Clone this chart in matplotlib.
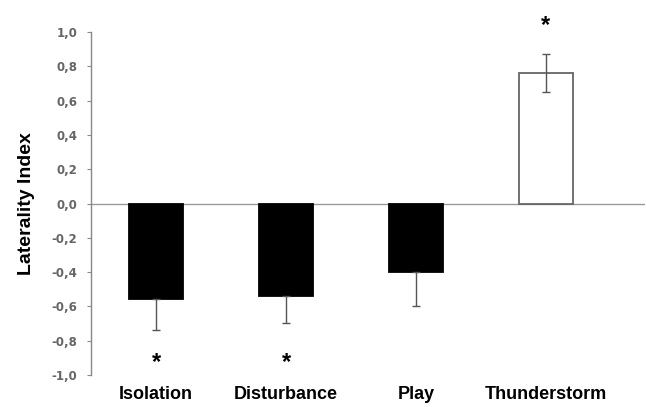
import matplotlib
matplotlib.use("Agg")
import matplotlib.pyplot as plt
import numpy as np

plt.rcParams['font.family'] = ['Liberation Sans', 'DejaVu Sans']

conditions = ["Isolation", "Disturbance", "Play", "Thunderstorm"]
laterality = [-0.56, -0.54, -0.40, 0.76]
err_low = [0.18, 0.16, 0.20, 0.11]
err_high = [0.0, 0.0, 0.0, 0.11]
significant = [True, True, False, True]
yticks = [-1.0, -0.8, -0.6, -0.4, -0.2, 0.0, 0.2, 0.4, 0.6, 0.8, 1.0]

fig = plt.figure(figsize=(6.46, 4.07), dpi=100)
ax = fig.add_axes([0.141, 0.079, 0.857, 0.842])

x = np.arange(len(conditions))
faces = ["black" if v < 0 else "white" for v in laterality]
edges = ["black" if v < 0 else "#666666" for v in laterality]
ax.bar(x, laterality, width=0.42, color=faces, edgecolor=edges, linewidth=1.3, zorder=2)
ax.errorbar(x, laterality, yerr=[err_low, err_high], fmt="none",
            ecolor="#555555", elinewidth=1, capsize=3, capthick=1, zorder=3)

# asterisks beyond the error bars
for xi, v, s in zip(x, laterality, significant):
    if not s:
        continue
    ypos = -0.93 if v < 0 else 1.04
    ax.text(xi, ypos, "*", ha="center", va="center", fontsize=17,
            fontweight="bold", clip_on=False)

ax.axhline(0, color="#999999", linewidth=1, zorder=1)

ax.set_ylim(-1.0, 1.0)
ax.set_xlim(-0.5, 3.76)
ax.set_yticks(yticks)
ax.set_yticklabels([f"{t:.1f}".replace(".", ",") for t in yticks],
                   fontsize=8.5, color="#666666", fontweight="bold",
                   family="DejaVu Sans")
ax.tick_params(axis="y", direction="out", length=3, color="#888888", pad=7)

ax.set_xticks(x)
ax.set_xticklabels(conditions, fontsize=13, fontweight="bold")
ax.tick_params(axis="x", length=0, pad=8)

for side in ["top", "right", "bottom"]:
    ax.spines[side].set_visible(False)
ax.spines["left"].set_color("#888888")
ax.spines["left"].set_linewidth(1)

ax.set_ylabel("Laterality Index", fontsize=14, fontweight="bold", labelpad=12)

fig.savefig("out.png", dpi=100)
